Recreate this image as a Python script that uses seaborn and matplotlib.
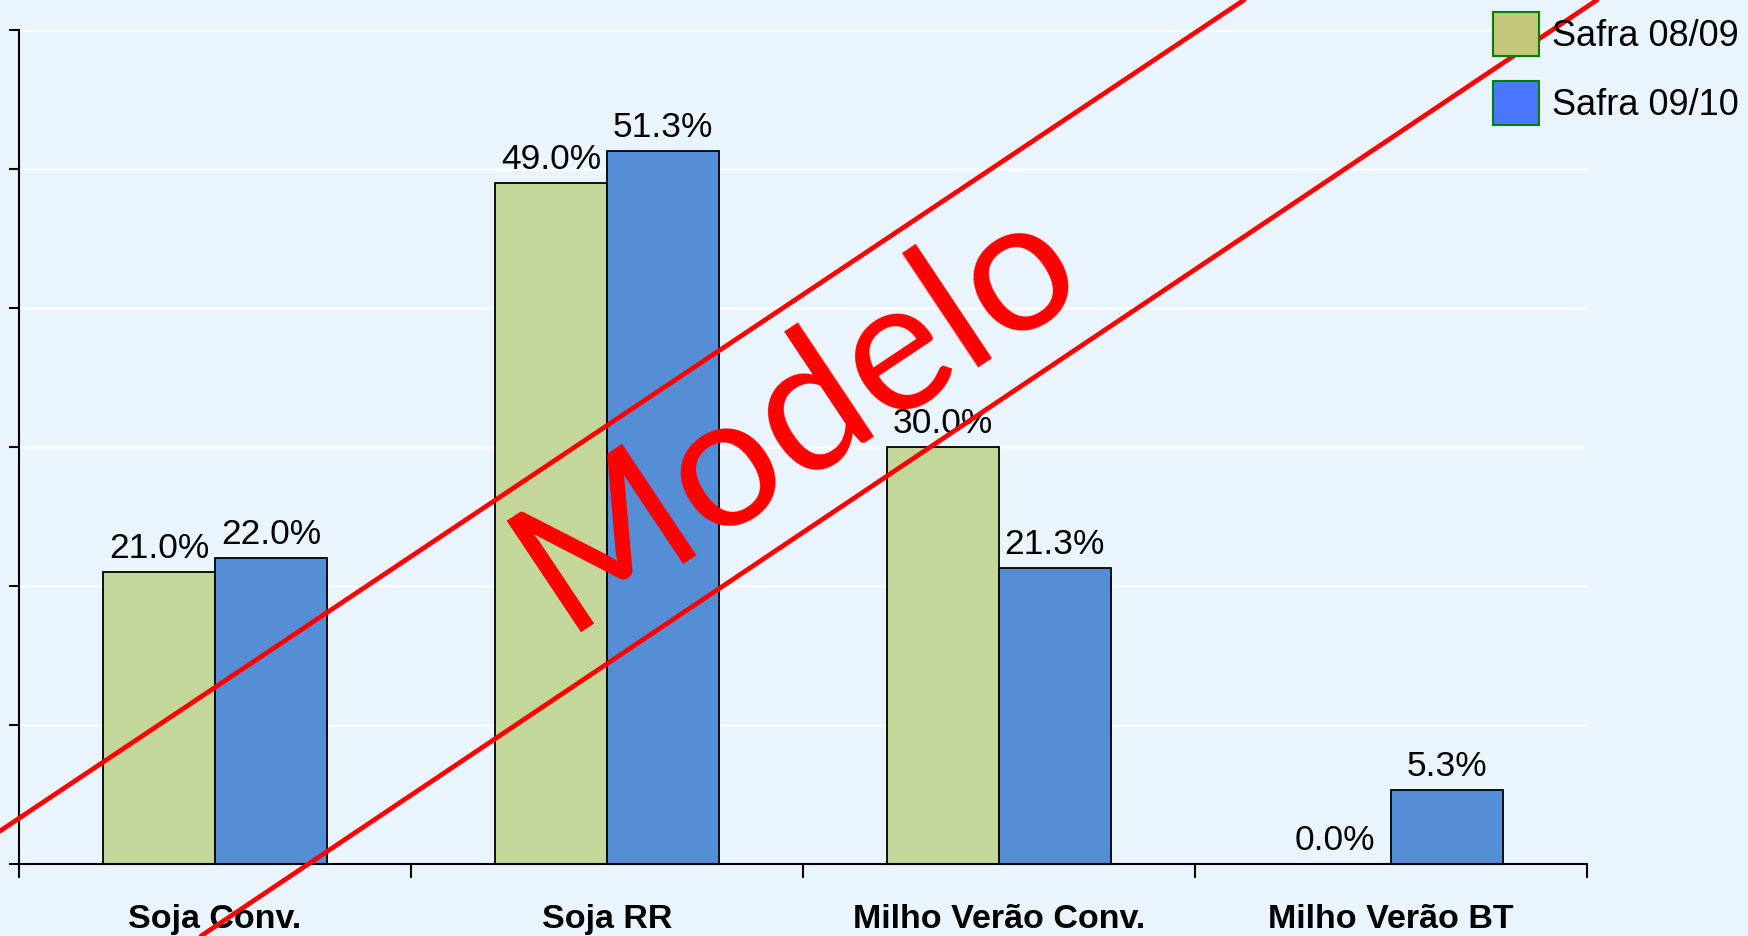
import matplotlib
matplotlib.use("Agg")
import matplotlib.pyplot as plt
import seaborn as sns
import pandas as pd
from matplotlib.patches import Patch
from matplotlib.lines import Line2D

categories = ["Soja Conv.", "Soja RR", "Milho Verão Conv.", "Milho Verão BT"]
safra_0809 = [21.0, 49.0, 30.0, 0.0]
safra_0910 = [22.0, 51.3, 21.3, 5.3]
series_names = ["Safra 08/09", "Safra 09/10"]

bar_colors = ["#C4D79B", "#558ED5"]
legend_colors = ["#C4C67C", "#4D76FF"]
bg = "#EAF4FD"

df = pd.DataFrame({
    "cat": categories * 2,
    "val": safra_0809 + safra_0910,
    "safra": [series_names[0]] * 4 + [series_names[1]] * 4,
})

sns.set_style("white")
plt.rcParams["font.family"] = ["Liberation Sans", "DejaVu Sans"]
plt.rcParams["text.color"] = "black"
plt.rcParams["xtick.color"] = "black"
plt.rcParams["ytick.color"] = "black"
plt.rcParams["axes.labelcolor"] = "black"

fig = plt.figure(figsize=(17.49, 9.36), dpi=100)
fig.patch.set_facecolor(bg)
ax = fig.add_axes([19 / 1749, 72 / 936, 1568 / 1749, 834 / 936])
ax.set_facecolor(bg)

sns.barplot(data=df, x="cat", y="val", hue="safra", palette=bar_colors,
            width=0.57, edgecolor="black", linewidth=1.3, ax=ax,
            legend=False, saturation=1)

for c in ax.containers:
    ax.bar_label(c, fmt="%.1f%%", padding=5, fontsize=25.5, color="black")

ax.set_ylim(0, 60)
ax.set_xlim(-0.5, 3.5)
ax.set_yticks(range(0, 61, 10))
ax.set_yticklabels([])
ax.yaxis.grid(True, color="white", linewidth=1.8)
ax.set_axisbelow(True)
ax.set_xlabel("")
ax.set_ylabel("")
for s in ["top", "right"]:
    ax.spines[s].set_visible(False)
for s in ["left", "bottom"]:
    ax.spines[s].set_color("black")
    ax.spines[s].set_linewidth(1.5)

ax.set_xticks(range(4))
ax.set_xticklabels(categories, fontsize=24.5, fontweight="bold", color="black")
ax.tick_params(axis="x", which="major", length=0, pad=29)
ax.set_xticks([-0.5, 0.5, 1.5, 2.5, 3.5], minor=True)
ax.tick_params(axis="x", which="minor", length=10, width=1.5, color="black", direction="out", bottom=True)
ax.tick_params(axis="y", length=7, width=1.5, color="black", direction="out", left=True)

handles = [Patch(facecolor=legend_colors[i], edgecolor="#008000", linewidth=1.5) for i in range(2)]
fig.legend(handles, series_names, loc="upper left",
           bbox_to_anchor=(1493 / 1749, 1 - 12 / 936), frameon=False,
           fontsize=26, handlelength=1.28, handleheight=1.5,
           handletextpad=0.36, labelspacing=0.68, borderpad=0, borderaxespad=0)

# watermark lines
fig.add_artist(Line2D([0, 1244 / 1749], [1 - 831 / 936, 1.0], color="red", linewidth=3.4, transform=fig.transFigure))
fig.add_artist(Line2D([201 / 1749, 1597 / 1749], [0.0, 1.0], color="red", linewidth=3.4, transform=fig.transFigure))
fig.text(797 / 1749, 1 - 413 / 936, "Modelo", rotation=33.7, rotation_mode="anchor",
         ha="center", va="center", color="red", fontsize=134, family="Lato")

fig.savefig("out.png", dpi=100, facecolor=bg)
